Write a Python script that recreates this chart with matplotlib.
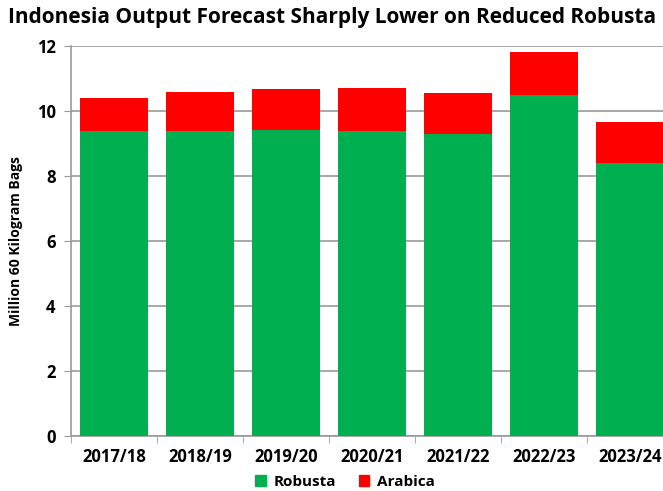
import matplotlib
matplotlib.use("Agg")
import matplotlib.pyplot as plt
from matplotlib.patches import Patch
import numpy as np

categories = ["2017/18", "2018/19", "2019/20", "2020/21", "2021/22", "2022/23", "2023/24"]
robusta = [9.4, 9.4, 9.42, 9.4, 9.3, 10.5, 8.4]
arabica = [1.0, 1.18, 1.26, 1.3, 1.25, 1.32, 1.26]

plt.rcParams['font.family'] = ['Open Sans', 'DejaVu Sans']
plt.rcParams['font.weight'] = 'bold'

fig = plt.figure(figsize=(6.63, 4.91), dpi=100)
W, H = 663, 491
ax = fig.add_axes([71 / W, 1 - 436 / H, 602 / W, 390 / H])

x = np.arange(len(categories))
green = "#00B050"
red = "#FF0000"
ax.bar(x, robusta, width=0.78, color=green, zorder=3)
ax.bar(x, arabica, width=0.78, bottom=robusta, color=red, zorder=3)

ax.set_xlim(-0.5, len(categories) - 0.5)
ax.set_ylim(0, 12)
ax.set_yticks(range(0, 13, 2))
ax.yaxis.grid(True, color="#9a9a9a", linewidth=1.2, zorder=0)
ax.set_xticks(x)
ax.set_xticklabels(categories, fontsize=12, fontweight='bold')
ax.set_xticks(np.arange(-0.5, len(categories), 1), minor=True)
ax.tick_params(axis='x', which='major', length=0, pad=9)
ax.tick_params(axis='x', which='minor', length=5, color="#9a9a9a", direction='out')
ax.tick_params(axis='y', length=5, color="#9a9a9a", labelsize=12, pad=6)
for lbl in ax.get_yticklabels():
    lbl.set_fontweight('bold')

for s in ["top", "right"]:
    ax.spines[s].set_visible(False)
ax.spines["left"].set_color("#9a9a9a")
ax.spines["bottom"].set_color("#9a9a9a")
ax.spines["left"].set_linewidth(1.2)
ax.spines["bottom"].set_linewidth(1.2)

ax.set_ylabel("Million 60 Kilogram Bags", fontsize=10, fontweight='bold', labelpad=10)

fig.text(8 / W, 1 - 18 / H, "Indonesia Output Forecast Sharply Lower on Reduced Robusta",
         fontsize=15, fontweight='bold', ha='left', va='center')

handles = [Patch(color=green, label="Robusta"), Patch(color=red, label="Arabica")]
fig.legend(handles=handles, loc='center', bbox_to_anchor=(345 / W, 1 - 482 / H), ncol=2,
           frameon=False, handlelength=0.7, handleheight=0.7,
           columnspacing=1.5, handletextpad=0.5, prop={'weight': 'bold', 'size': 11})

fig.savefig("out.png", dpi=100)
